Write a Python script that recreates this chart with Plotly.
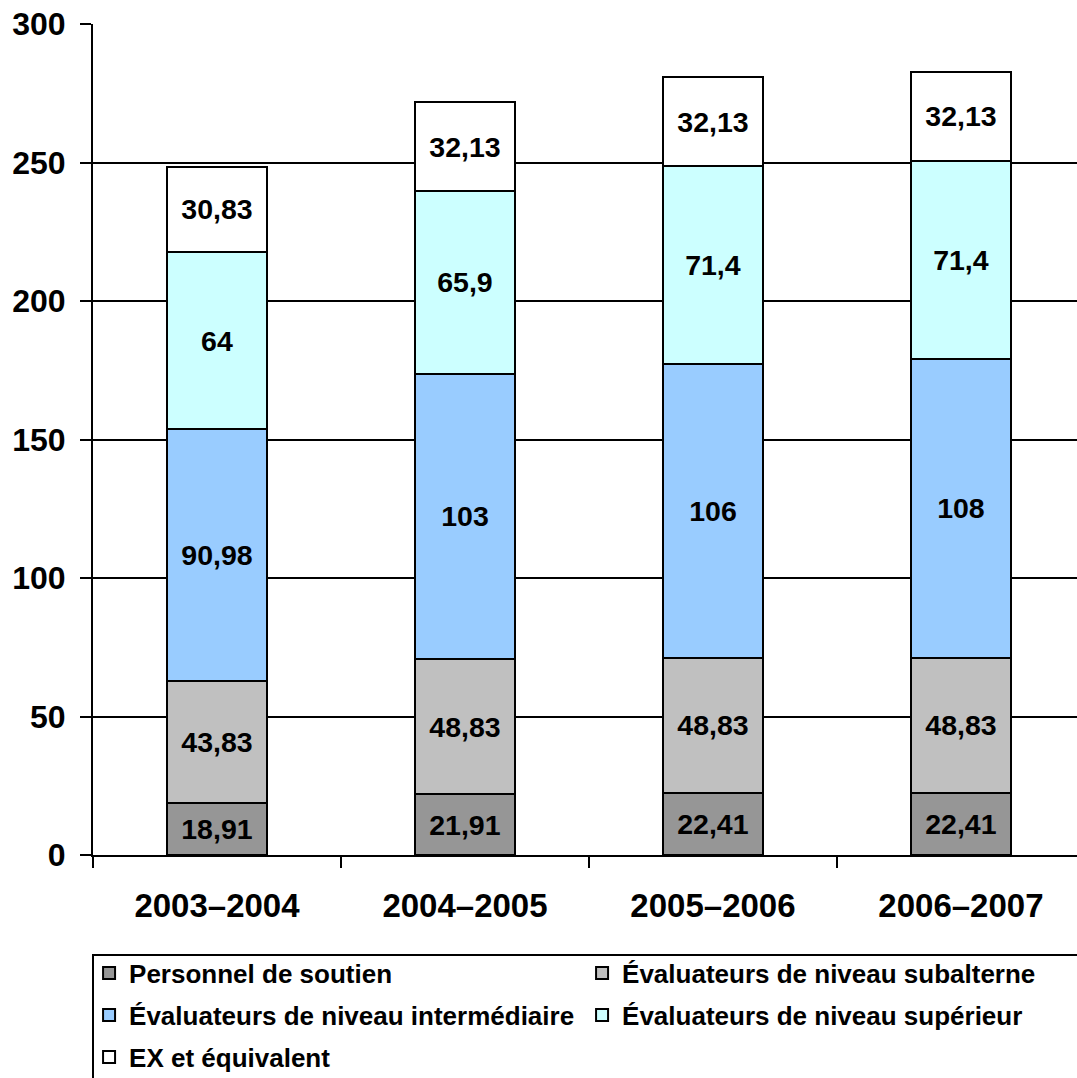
import plotly.graph_objects as go

# Fiscal years and staffing (FTE) by evaluator level
years = ["2003–2004", "2004–2005", "2005–2006", "2006–2007"]
soutien = [18.91, 21.91, 22.41, 22.41]
subalterne = [43.83, 48.83, 48.83, 48.83]
intermediaire = [90.98, 103, 106, 108]
superieur = [64, 65.9, 71.4, 71.4]
ex = [30.83, 32.13, 32.13, 32.13]

series = [
    ("Personnel de soutien", soutien, "#969696", "legend"),
    ("Évaluateurs de niveau subalterne", subalterne, "#C0C0C0", "legend"),
    ("Évaluateurs de niveau intermédiaire", intermediaire, "#99CCFF", "legend2"),
    ("Évaluateurs de niveau supérieur", superieur, "#CCFFFF", "legend2"),
    ("EX et équivalent", ex, "#FFFFFF", "legend3"),
]

FONT = "Arial, Liberation Sans, sans-serif"


def fr(v):
    return f"{v:g}".replace(".", ",")


fig = go.Figure()
for name, vals, color, leg in series:
    fig.add_trace(go.Bar(
        x=years, y=vals, name=name,
        marker=dict(color=color, line=dict(color="black", width=2)),
        text=[fr(v) for v in vals],
        texttemplate="<b>%{text}</b>",
        textposition="inside", insidetextanchor="middle",
        constraintext="none",
        textfont=dict(family=FONT, size=28.5, color="black"),
        legend=leg,
    ))

W, H = 1077, 1078
ml, mt, mb = 93, 24, 223
plot_h = H - mt - mb


def py(px):
    # pixel row -> paper y
    return (H - mb - px) / plot_h


legend_common = dict(
    orientation="h", xanchor="left", yanchor="middle",
    font=dict(family=FONT, size=26, color="black", weight="bold"),
    entrywidth=448, entrywidthmode="pixels",
    bgcolor="rgba(0,0,0,0)", borderwidth=0, traceorder="normal",
)

fig.update_layout(
    width=W, height=H,
    margin=dict(l=ml, r=0, t=mt, b=mb, pad=0, autoexpand=False),
    paper_bgcolor="white", plot_bgcolor="white",
    barmode="stack", bargap=0.597,
    font=dict(family=FONT, color="black"),
    xaxis=dict(
        type="category", range=[-0.5, 3.468], automargin=False,
        tickson="boundaries", ticks="outside", ticklen=11, tickwidth=2, tickcolor="black",
        showline=True, linecolor="black", linewidth=2,
        showgrid=False,
        tickfont=dict(family=FONT, size=33, color="black", weight="bold"),
        ticklabelstandoff=20,
    ),
    yaxis=dict(
        range=[0, 300], tickvals=[0, 50, 100, 150, 200, 250, 300], automargin=False,
        ticks="outside", ticklen=11, tickwidth=2, tickcolor="black",
        showline=True, linecolor="black", linewidth=2,
        showgrid=True, gridcolor="black", gridwidth=2,
        zeroline=False,
        tickfont=dict(family=FONT, size=32, color="black", weight="bold"),
        ticklabelstandoff=8,
    ),
    legend=dict(x=-0.004, y=py(973), **legend_common),
    legend2=dict(x=-0.004, y=py(1015), **legend_common),
    legend3=dict(x=-0.004, y=py(1057), **legend_common),
    shapes=[dict(
        type="rect", xref="paper", yref="paper",
        x0=0, x1=1.05, y0=py(955), y1=py(1100),
        line=dict(color="black", width=2), fillcolor="rgba(0,0,0,0)",
        layer="below",
    )],
)

fig.write_html("out.html")
